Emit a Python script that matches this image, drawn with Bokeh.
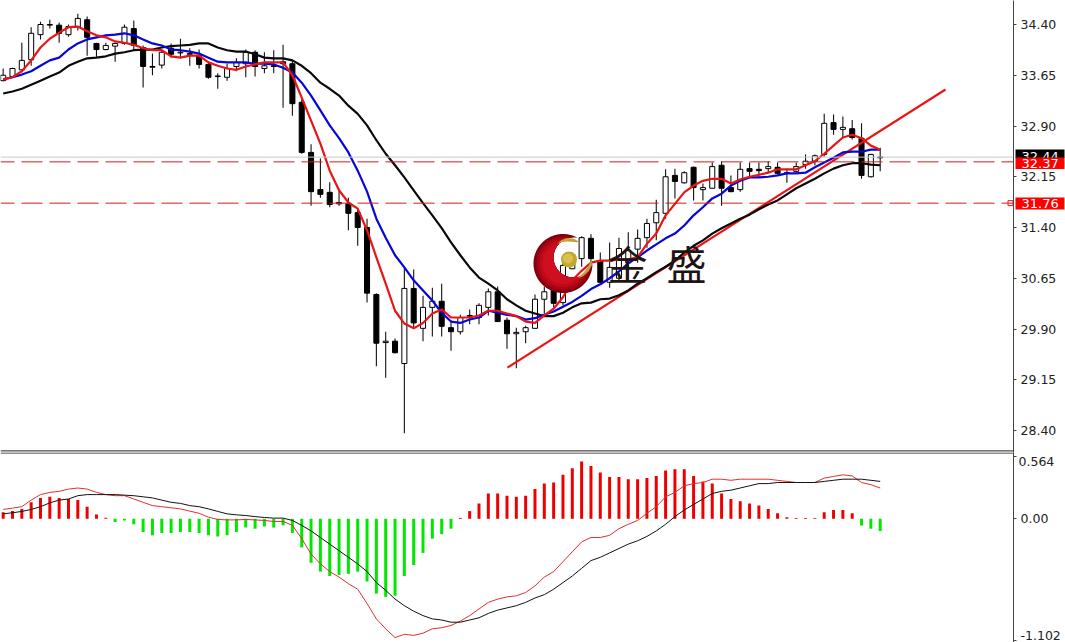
import numpy as np
from bokeh.core.properties import value
from bokeh.embed import file_html
from bokeh.layouts import column, row
from bokeh.models import (ColumnDataSource, FixedTicker, NumeralTickFormatter, Range1d, Span)
from bokeh.plotting import figure
from bokeh.resources import INLINE

# ---------- data ----------
opens = [33.57,33.63,33.73,33.88,34.25,34.39,34.39,34.25,34.36,34.47,34.12,34.03,34.08,34.12,34.34,34.06,33.78,33.80,34.05,33.98,
         33.97,33.94,33.81,33.63,33.62,33.78,33.82,33.99,33.75,33.79,33.85,33.82,33.25,32.51,31.96,31.92,31.75,31.75,31.62,31.40,
         30.41,29.70,29.72,29.39,30.50,29.91,30.22,30.31,29.92,29.86,30.10,30.07,30.22,30.45,30.03,29.83,29.86,29.91,30.34,30.47,
         30.29,30.79,30.94,31.24,30.91,30.59,30.65,30.88,31.08,31.25,31.47,31.61,32.17,32.06,32.29,31.96,31.98,32.32,31.99,31.96,
         32.27,32.26,32.27,32.29,32.21,32.23,32.33,32.38,32.48,32.95,32.85,32.86,32.72,32.15,32.43]
closes = [33.65,33.75,33.87,34.27,34.40,34.40,34.27,34.37,34.49,34.21,34.03,34.09,34.12,34.36,34.09,33.78,33.77,33.99,33.96,33.99,
          33.96,33.81,33.62,33.64,33.75,33.84,33.99,33.78,33.79,33.78,33.82,33.23,32.51,31.93,31.89,31.74,31.77,31.61,31.40,30.43,
          29.69,29.72,29.55,30.50,29.99,30.22,30.31,29.94,29.86,30.07,30.09,30.25,30.45,30.01,29.83,29.85,29.92,30.34,30.45,30.28,
          30.84,31.00,31.25,30.94,30.59,30.81,31.09,31.06,31.24,31.46,31.62,32.15,32.08,32.21,31.99,31.99,32.30,31.98,31.93,32.26,
          32.23,32.24,32.30,32.20,32.20,32.30,32.38,32.46,32.94,32.85,32.88,32.73,32.17,32.48,32.44]
highs = [33.75,33.76,34.13,34.36,34.44,34.47,34.43,34.40,34.56,34.52,34.13,34.13,34.13,34.40,34.46,34.09,33.97,34.02,34.12,34.19,
         34.05,34.03,33.84,33.68,33.82,33.90,34.03,34.02,33.99,34.02,34.10,33.87,33.29,32.63,32.42,32.07,31.95,31.84,31.67,31.53,
         30.43,29.86,29.76,30.80,30.78,30.39,30.51,30.57,30.03,30.11,30.19,30.28,30.50,30.53,30.07,29.92,29.95,30.41,30.53,30.54,
         30.94,31.03,31.27,31.30,31.03,31.18,31.25,31.33,31.37,31.53,31.81,32.26,32.27,32.23,32.30,32.05,32.36,32.38,32.17,32.36,
         32.36,32.36,32.38,32.36,32.27,32.36,32.48,32.48,33.08,33.07,33.04,32.99,32.94,32.49,32.58]
lows = [33.56,33.62,33.69,33.79,34.18,34.34,34.13,34.22,34.31,33.94,33.91,34.02,33.85,34.10,34.02,33.47,33.65,33.75,33.91,33.91,
        33.79,33.75,33.60,33.45,33.57,33.71,33.62,33.63,33.68,33.68,33.17,33.05,32.49,31.72,31.84,31.70,31.72,31.36,31.13,30.29,
        29.35,29.18,29.54,28.36,29.91,29.72,29.79,29.79,29.58,29.82,29.97,29.97,30.10,30.01,29.61,29.32,29.69,29.91,30.13,30.22,
        30.25,30.79,30.82,30.79,30.59,30.51,30.60,30.76,30.88,31.10,31.21,31.53,31.83,32.05,31.80,31.80,31.98,31.72,31.92,31.93,
        32.14,32.15,32.21,32.18,32.06,32.21,32.27,32.32,32.45,32.77,32.72,32.70,32.12,32.14,32.23]
ma_red = [33.59,33.62,33.71,33.87,34.06,34.19,34.28,34.36,34.37,34.30,34.24,34.21,34.15,34.13,34.10,34.05,34.02,34.02,33.93,33.91,
          33.94,33.94,33.84,33.79,33.75,33.73,33.78,33.81,33.84,33.84,33.84,33.65,33.32,32.98,32.64,32.24,31.95,31.77,31.68,31.36,
          30.96,30.57,30.17,29.98,29.91,29.99,30.13,30.19,30.07,30.07,30.07,30.10,30.17,30.17,30.13,30.09,30.01,29.99,30.10,30.20,
          30.37,30.62,30.76,30.88,30.91,30.91,30.93,30.93,30.96,31.16,31.31,31.58,31.75,31.92,32.02,32.09,32.12,32.12,32.05,32.11,
          32.15,32.18,32.21,32.26,32.26,32.26,32.32,32.38,32.49,32.61,32.73,32.77,32.72,32.61,32.55]
ma_blue = [33.59,33.62,33.66,33.71,33.79,33.87,33.91,34.03,34.12,34.18,34.21,34.24,34.25,34.27,34.24,34.18,34.12,34.09,34.03,34.02,
           34.00,33.97,33.91,33.85,33.84,33.84,33.84,33.82,33.82,33.81,33.76,33.69,33.54,33.35,33.13,32.91,32.72,32.51,32.24,31.93,
           31.53,31.25,30.99,30.81,30.62,30.47,30.32,30.14,30.01,29.99,30.04,30.07,30.17,30.14,30.11,30.09,30.04,30.06,30.11,30.16,
           30.23,30.30,30.39,30.49,30.56,30.65,30.75,30.87,30.96,31.06,31.15,31.24,31.31,31.43,31.58,31.70,31.83,31.90,32.02,32.09,
           32.14,32.14,32.15,32.17,32.20,32.20,32.21,32.29,32.36,32.43,32.51,32.52,32.52,32.55,32.55]
ma_black = [33.38,33.41,33.45,33.51,33.57,33.63,33.69,33.79,33.85,33.90,33.91,33.93,33.97,33.99,34.02,34.03,34.03,34.06,34.08,34.09,
            34.10,34.12,34.12,34.06,34.02,34.00,34.00,33.96,33.91,33.90,33.90,33.87,33.79,33.68,33.54,33.45,33.35,33.20,33.08,32.91,
            32.69,32.49,32.32,32.14,31.95,31.76,31.58,31.39,31.18,30.99,30.81,30.66,30.57,30.47,30.34,30.25,30.17,30.13,30.09,30.09,
            30.14,30.22,30.28,30.29,30.34,30.35,30.40,30.47,30.57,30.65,30.74,30.82,30.91,31.03,31.13,31.21,31.31,31.39,31.46,31.53,
            31.59,31.67,31.74,31.80,31.89,31.98,32.05,32.12,32.20,32.27,32.32,32.35,32.35,32.33,32.32]
macd_hist = [.06,.07,.09,.15,.19,.20,.19,.18,.17,.11,.04,.01,-.03,-.015,-.05,-.12,-.15,-.13,-.13,-.12,
             -.12,-.13,-.15,-.16,-.15,-.12,-.08,-.09,-.07,-.08,-.06,-.13,-.26,-.40,-.48,-.52,-.51,-.50,-.48,-.57,
             -.68,-.71,-.70,-.52,-.42,-.31,-.18,-.14,-.09,.008,.07,.14,.23,.23,.21,.20,.21,.27,.32,.33,
             .40,.46,.52,.48,.42,.38,.38,.36,.36,.37,.39,.44,.45,.45,.39,.34,.32,.23,.18,.16,
             .14,.12,.09,.05,.015,.008,.008,.008,.06,.08,.08,.05,-.06,-.09,-.11]
macd_red = [.085,.097,.11,.17,.22,.24,.25,.27,.28,.27,.24,.22,.21,.21,.18,.15,.12,.11,.10,.09,
            .07,.05,.015,-.006,-.01,-.01,-.006,-.01,-.015,-.024,-.024,-.06,-.18,-.32,-.41,-.48,-.53,-.59,-.64,-.77,
            -.91,-1.0,-1.08,-1.05,-1.06,-1.04,-1.0,-.99,-.97,-.93,-.88,-.82,-.76,-.73,-.71,-.70,-.67,-.61,-.53,-.48,
            -.39,-.30,-.21,-.17,-.17,-.15,-.09,-.05,-.015,.05,.11,.20,.24,.30,.32,.33,.36,.36,.35,.36,
            .36,.36,.36,.35,.34,.33,.33,.33,.37,.385,.40,.39,.33,.31,.28]
macd_black = [.045,.055,.067,.085,.11,.145,.17,.18,.21,.22,.22,.22,.22,.215,.21,.20,.19,.17,.15,.14,
              .12,.11,.09,.067,.045,.036,.03,.02,.012,.006,.006,-.015,-.06,-.11,-.17,-.23,-.29,-.35,-.41,-.48,
              -.58,-.65,-.73,-.79,-.84,-.88,-.91,-.92,-.94,-.94,-.92,-.90,-.86,-.83,-.81,-.79,-.76,-.72,-.69,-.64,
              -.58,-.52,-.45,-.38,-.35,-.31,-.27,-.23,-.20,-.16,-.11,-.05,.02,.08,.13,.18,.23,.25,.26,.28,
              .30,.32,.32,.33,.33,.33,.33,.33,.34,.35,.36,.36,.36,.35,.34]
price_ticks = [34.40, 33.65, 32.90, 32.15, 31.40, 30.65, 29.90, 29.15, 28.40]
macd_ticks = [0.564, 0, -1.102]
trend_index = [54.05, 101.0]
trend_price = [29.33, 33.44]
last_price = 32.44
level_a = 32.37
level_b = 31.76
tag_texts = ["32.44", "32.37", "31.76"]

# ---------- page geometry ----------
W, H = 1065, 642
FRAME_W = 1013
TOP_H, BOT_H = 452, 190
BAR = 9.33
X0 = 2.67


def to_index(px):
    return (px - X0) / BAR


def to_price(py):
    return 34.40 - (py - 24.0) / 67.67


x_rng = Range1d(to_index(0), to_index(FRAME_W))
FONT = "DejaVu Sans"
FS = "12.5px"
AXIS = "#444444"
RED = "#ea1414"
BLUE = "#0606d8"
idx = list(range(len(closes)))

# ---------- price panel ----------
y_price = Range1d(to_price(TOP_H), to_price(0))
p1 = figure(width=W, height=TOP_H, output_backend="svg", toolbar_location=None,
            x_range=x_rng, y_range=y_price,
            x_axis_location=None, y_axis_location="right",
            min_border_left=0, min_border_right=W - FRAME_W, min_border_top=0, min_border_bottom=0,
            outline_line_color=None, background_fill_color="white", border_fill_color="white")
p1.grid.visible = False
ax = p1.yaxis[0]
ax.ticker = FixedTicker(ticks=price_ticks)
ax.formatter = NumeralTickFormatter(format="0.00")
ax.axis_line_color = AXIS
ax.major_tick_line_color = AXIS
ax.major_tick_in = 0
ax.major_tick_out = 3
ax.minor_tick_line_color = None
ax.major_label_standoff = 4
ax.major_label_text_font = FONT
ax.major_label_text_font_size = FS
ax.major_label_text_color = "#222222"

p1.add_layout(Span(location=last_price, dimension="width", line_color="#c8c8c8", line_width=1))
for lvl in (level_a, level_b):
    p1.add_layout(Span(location=lvl, dimension="width", line_color="#d81818", line_width=1,
                       line_dash="21 7", line_dash_offset=7))
p1.add_layout(Span(location=to_price(450.4), dimension="width", line_color="#222222", line_width=1))

src = ColumnDataSource(dict(
    x=idx, o=opens, c=closes, h=highs, l=lows,
    top=[max(a, b) for a, b in zip(opens, closes)],
    bot=[min(a, b) for a, b in zip(opens, closes)],
    col=["white" if c >= o else "black" for o, c in zip(opens, closes)],
))
p1.segment("x", "h", "x", "l", source=src, line_color="#111111", line_width=1.1)
p1.vbar("x", 0.54, "bot", "top", source=src, fill_color="col", line_color="black", line_width=1)

p1.line(trend_index, trend_price, line_color=RED, line_width=2.2)
p1.line(idx, ma_black, line_color="#0a0a0a", line_width=2.2)
p1.line(idx, ma_blue, line_color=BLUE, line_width=2.2)
p1.line(idx, ma_red, line_color=RED, line_width=2.2)

# watermark: crescent + gold ball + two characters
OC, IC, IR = (562.5, 263.0), (573.0, 257.0), 20.0


def crescent(r):
    th = np.linspace(0, 2 * np.pi, 361)[:-1]
    ox, oy = OC[0] + r * np.cos(th), OC[1] + r * np.sin(th)
    keep = (ox - IC[0]) ** 2 + (oy - IC[1]) ** 2 > IR ** 2
    s = np.where(keep & ~np.roll(keep, 1))[0][0]
    ox, oy, keep = np.roll(ox, -s), np.roll(oy, -s), np.roll(keep, -s)
    ox, oy = ox[keep], oy[keep]
    ix, iy = IC[0] + IR * np.cos(th), IC[1] + IR * np.sin(th)
    k2 = (ix - OC[0]) ** 2 + (iy - OC[1]) ** 2 < r ** 2
    s2 = np.where(k2 & ~np.roll(k2, 1))[0][0]
    ix, iy, k2 = np.roll(ix, -s2), np.roll(iy, -s2), np.roll(k2, -s2)
    ix, iy = ix[k2], iy[k2]
    if (ix[0] - ox[-1]) ** 2 + (iy[0] - oy[-1]) ** 2 > (ix[-1] - ox[-1]) ** 2 + (iy[-1] - oy[-1]) ** 2:
        ix, iy = ix[::-1], iy[::-1]
    xs, ys = np.r_[ox, ix], np.r_[oy, iy]
    return to_index(xs), to_price(ys)


for r, col in ((29.5, "#7a0010"), (28, "#930012"), (26, "#ab0415"), (23.5, "#c00a1a"), (20.5, "#cf0f20")):
    cx, cy = crescent(r)
    p1.patch(cx, cy, fill_color=col, line_color=None)

swoosh_top_px = ([556.5, 561, 566, 573, 580, 574, 567, 561], [243.5, 239.5, 237.5, 238, 242, 241.5, 241, 241.5])
swoosh_right_px = ([591.7, 591, 588, 583, 577, 583, 587.5, 590], [258, 265, 271, 275.5, 278, 272, 266.5, 261])
for sx, sy in (swoosh_top_px, swoosh_right_px):
    p1.patch(to_index(np.array(sx)), to_price(np.array(sy)), fill_color="#c4a235", line_color=None)
p1.scatter([to_index(568.5)], [to_price(259)], size=16, fill_color="#c2a830", line_color=None)
p1.scatter([to_index(567.5)], [to_price(258)], size=10, fill_color="#d6c24c", line_color=None)
p1.text([to_index(627), to_index(686)], [to_price(262), to_price(262)], text=["金", "盛"],
        text_font=value("Noto Sans CJK SC"), text_font_size="40px", text_color="#1e1414",
        text_align="center", text_baseline="middle")

p1.scatter([to_index(1010)], [level_b], marker="square", size=5, fill_color="white", line_color="#e81818")

# ---------- MACD panel ----------
PX_PER_UNIT = 110.0
ZERO_Y = 66.3  # px of the zero line below the panel top


def to_macd(py):
    return (ZERO_Y - py) / PX_PER_UNIT


y_macd = Range1d(to_macd(BOT_H), to_macd(0))
p2 = figure(width=W, height=BOT_H, output_backend="svg", toolbar_location=None,
            x_range=x_rng, y_range=y_macd,
            x_axis_location=None, y_axis_location="right",
            min_border_left=0, min_border_right=W - FRAME_W, min_border_top=0, min_border_bottom=0,
            outline_line_color=None, background_fill_color="white", border_fill_color="white")
p2.grid.visible = False
ax2 = p2.yaxis[0]
ax2.ticker = FixedTicker(ticks=macd_ticks)
ax2.major_label_overrides = {0.564: " ", 0: "0.00", -1.102: "-1.102"}
ax2.axis_line_color = AXIS
ax2.major_tick_line_color = AXIS
ax2.major_tick_in = 0
ax2.major_tick_out = 3
ax2.minor_tick_line_color = None
ax2.major_label_standoff = 4
ax2.major_label_text_font = FONT
ax2.major_label_text_font_size = FS
ax2.major_label_text_color = "#222222"
p2.add_layout(Span(location=to_macd(0.5), dimension="width", line_color="#222222", line_width=1.2))

hist_src = ColumnDataSource(dict(x=idx, v=macd_hist, z=[0] * len(idx),
                                 col=["#ee0000" if v > 0 else "#00e800" for v in macd_hist]))
p2.vbar("x", 0.32, "z", "v", source=hist_src, fill_color="col", line_color=None)
p2.line(idx, macd_red, line_color="#e03030", line_width=1)
p2.line(idx, macd_black, line_color="#111111", line_width=1)

# ---------- transparent strips laid over the axis gutter: price tags, the 0.564 label ----------
x_tag = Range1d(to_index(FRAME_W), to_index(W))


def strip(height, y_range):
    s = figure(width=W - FRAME_W, height=height, output_backend="svg", toolbar_location=None,
               x_range=x_tag, y_range=y_range, x_axis_location=None, y_axis_location=None,
               min_border_left=0, min_border_right=0, min_border_top=0, min_border_bottom=0,
               outline_line_color=None, background_fill_color=None, border_fill_color=None)
    s.grid.visible = False
    return s


s1 = strip(TOP_H, y_price)
xl, xr, xt = to_index(1015), to_index(1064), to_index(1021)
for txt, fill, cy, t_px, b_px in ((tag_texts[0], "#000000", 155.5, 149, 157.5),
                                  (tag_texts[1], "#ff0000", 162.7, 157, 168.5),
                                  (tag_texts[2], "#ff0000", 203.2, 197, 209)):
    s1.quad(left=[xl], right=[xr], top=[to_price(t_px)], bottom=[to_price(b_px)], fill_color=fill, line_color=None)
    s1.text([xt], [to_price(cy)], text=[txt], text_color="white", text_font=value(FONT), text_font_size="13px",
            text_align="left", text_baseline="middle")

s2 = strip(BOT_H, y_macd)
s2.text([to_index(1018)], [to_macd(9)], text=["0.564"], text_color="#222222", text_font=value(FONT),
        text_font_size=FS, text_align="left", text_baseline="middle")

left = column(p1, p2, spacing=0)
right = column(s1, s2, spacing=0, margin=(0, 0, 0, -(W - FRAME_W)))
page = row(left, right, spacing=0)
open("out.html", "w").write(file_html(page, INLINE))
